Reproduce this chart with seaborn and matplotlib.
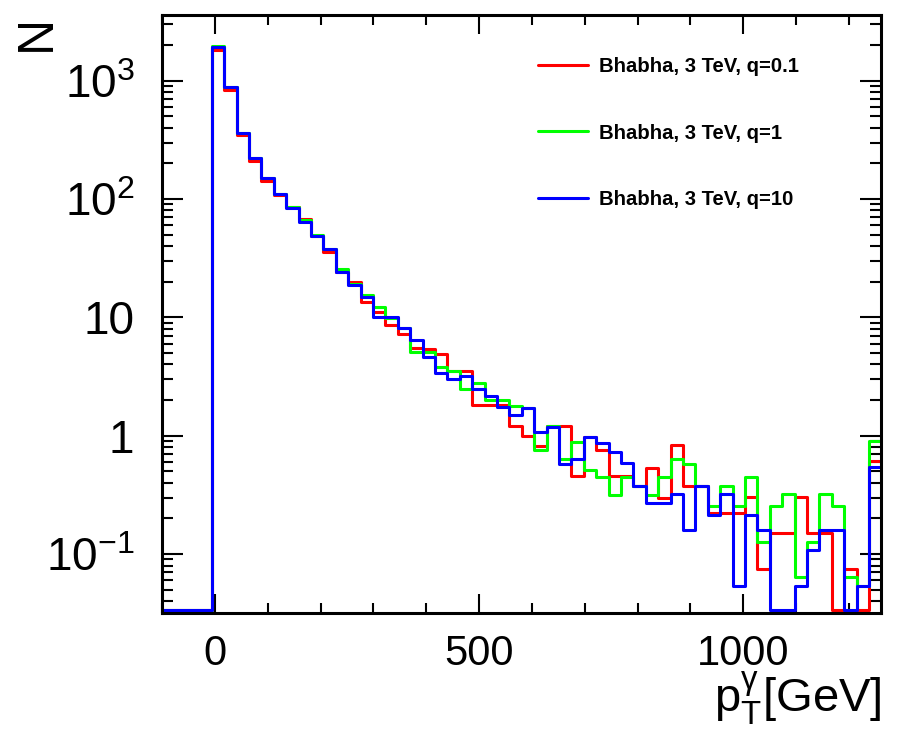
import numpy as np
import pandas as pd
import matplotlib
matplotlib.use("Agg")
import matplotlib.pyplot as plt
from matplotlib.ticker import MultipleLocator, FixedLocator, FixedFormatter, LogLocator, NullFormatter
from matplotlib.lines import Line2D
import seaborn as sns

# histogram binning (ROOT style, 58 bins)
x_low, x_high, n_bins = -100, 1262, 58
y_low, y_high = 0.0316, 3590

labels = ["Bhabha, 3 TeV, q=0.1", "Bhabha, 3 TeV, q=1", "Bhabha, 3 TeV, q=10"]
colors = ["#ff0000", "#00ff00", "#0000ff"]

counts_q01 = [0, 0, 0, 0, 1815, 834, 348, 211, 143, 108, 86, 67.8, 48.6, 35.9, 24.4, 20,
              13.6, 11, 8.7, 7.3, 5.5, 5.4, 4.9, 3.54, 3.54, 1.82, 1.82, 1.82, 1.2, 0.99,
              0.82, 1.2, 1.2, 0.46, 0.98, 0.76, 0.455, 0.455, 0.375, 0.53, 0.30, 0.83,
              0.375, 0.375, 0.223, 0.223, 0.223, 0.305, 0.0755, 0.151, 0.151, 0.305,
              0.151, 0.151, 0, 0.0755, 0, 0.61]
counts_q1 = [0, 0, 0, 0, 1980, 880, 363, 221, 150, 110, 85, 66, 49.5, 38, 25.5, 19.3,
             15.4, 12.3, 9.8, 8.1, 5.1, 5.1, 3.82, 3.54, 2.46, 2.77, 2.0, 2.0, 1.78, 1.7,
             0.76, 1.2, 0.64, 0.89, 0.51, 0.45, 0.315, 0.45, 0.375, 0.315, 0.45, 0.64,
             0.58, 0.375, 0.254, 0.375, 0.254, 0.45, 0.127, 0.254, 0.32, 0.064, 0.127,
             0.32, 0.254, 0.064, 0.0536, 0.90]
counts_q10 = [0, 0, 0, 0, 1940, 880, 363, 221, 150, 110, 83.4, 64.3, 48.6, 38, 24, 18.7,
              14.9, 10.1, 10.1, 8.07, 6.43, 4.65, 3.37, 2.99, 3.18, 2.46, 2.16, 1.74, 1.49,
              1.7, 1.08, 1.18, 0.58, 0.64, 0.98, 0.86, 0.73, 0.59, 0.375, 0.27, 0.27, 0.32,
              0.161, 0.375, 0.213, 0.32, 0.0536, 0.213, 0.161, 0, 0, 0.0536, 0.108, 0.161,
              0.161, 0, 0.0536, 0.546]

y_ticks = [0.1, 1, 10, 100, 1000]
y_ticklabels = [r"$10^{-1}$", "1", "10", r"$10^{2}$", r"$10^{3}$"]

sns.set_style("ticks")
plt.rcParams["font.family"] = ["Liberation Sans", "DejaVu Sans"]
plt.rcParams.update({
    "mathtext.fontset": "custom",
    "mathtext.rm": "Liberation Sans",
    "mathtext.it": "Liberation Sans:italic",
    "mathtext.bf": "Liberation Sans:bold",
    "mathtext.default": "regular",
    "text.color": "black",
    "axes.labelcolor": "black",
    "xtick.color": "black",
    "ytick.color": "black",
})

edges = np.linspace(x_low, x_high, n_bins + 1)
centers = 0.5 * (edges[:-1] + edges[1:])

fig = plt.figure(figsize=(9, 7.45), dpi=100)
ax = fig.add_axes([0.1803, 0.1768, 0.7991, 0.8031])

# empty bins sit on the frame floor like ROOT draws them
floor = y_low * 1.06
for counts, label, color in zip([counts_q01, counts_q1, counts_q10], labels, colors):
    df = pd.DataFrame({"pt": centers, "n": np.maximum(counts, floor)})
    sns.histplot(data=df, x="pt", weights="n", bins=n_bins, binrange=(x_low, x_high),
                 element="step", fill=False, color=color, linewidth=2.2, ax=ax)

ax.set_yscale("log")
ax.set_xlim(x_low, x_high)
ax.set_ylim(y_low, y_high)

ax.xaxis.set_major_locator(MultipleLocator(500))
ax.xaxis.set_minor_locator(MultipleLocator(100))
ax.yaxis.set_major_locator(FixedLocator(y_ticks))
ax.yaxis.set_major_formatter(FixedFormatter(y_ticklabels))
ax.yaxis.set_minor_locator(LogLocator(base=10, subs=np.arange(2, 10)))
ax.yaxis.set_minor_formatter(NullFormatter())

ax.tick_params(which="both", direction="in", top=True, right=True, width=1.5, color="black")
ax.tick_params(axis="x", which="major", length=14, pad=15, labelsize=30)
ax.tick_params(axis="x", which="minor", length=7)
ax.tick_params(axis="y", which="major", length=15, pad=20, labelsize=33)
ax.tick_params(axis="y", which="minor", length=8)
for s in ax.spines.values():
    s.set_linewidth(2.2)
    s.set_color("black")

ax.set_xlabel(r"$\mathregular{p^{\gamma}_{T}}$[GeV]", fontsize=34, ha="right")
ax.xaxis.set_label_coords(1.0, -0.093)
ax.set_ylabel("N", fontsize=36, loc="top")
ax.yaxis.set_label_coords(-0.142, 1.0)

handles = [Line2D([], [], color=c, lw=2.2) for c in colors]
ax.legend(handles, labels, loc="upper left", bbox_to_anchor=(0.522, 0.93),
          frameon=False, borderaxespad=0, borderpad=0, handlelength=2.5,
          handletextpad=0.5, labelspacing=2.35,
          prop={"family": "Liberation Sans", "weight": "bold", "size": 14.6})

fig.savefig("out.png", dpi=100)
